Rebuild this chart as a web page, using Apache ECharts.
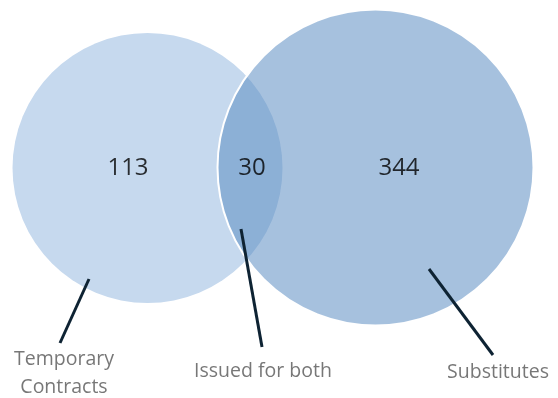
<!DOCTYPE html>
<html>
<head>
<meta charset="utf-8" />
<title>Venn</title>
<script src="https://cdn.jsdelivr.net/npm/echarts@6/dist/echarts.min.js"></script>
<style>
  html, body { margin: 0; padding: 0; background: #fff; }
  #venn { width: 558px; height: 398px; }
</style>
</head>
<body>
<div id="venn"></div>
<script>
// sets: centre and radius in chart units (x 0-558, y 0-398)
var setNames = ['Temporary Contracts', 'Substitutes'];
var setX = [147.5, 375.5];
var setY = [168, 167.5];
var setR = [135, 158];

// region counts: only left, both, only right
var regionCounts = [113, 30, 344];
var regionX = [128, 252, 399];
var regionY = [168, 168, 168];

// callout labels and leader lines
var calloutText = ['Temporary\nContracts', 'Issued for both', 'Substitutes'];
var calloutX = [64, 263, 498];
var calloutY = [373, 371, 372];
var leaderFrom = [[89, 279], [241, 229], [429, 269]];
var leaderTo = [[60, 343], [262, 347], [493, 355]];

var myChart = echarts.init(document.getElementById('venn'));

var circleData = setNames.map(function (n, i) {
  return { name: n, value: [setX[i], setY[i], setR[i], i] };
});
var fills = ['#c6d9ee', 'rgba(93,142,195,0.55)'];

myChart.setOption({
  animation: false,
  grid: { left: 0, right: 0, top: 0, bottom: 0 },
  xAxis: { type: 'value', min: 0, max: 558, show: false },
  yAxis: { type: 'value', min: 0, max: 398, inverse: true, show: false },
  series: [{
    type: 'custom',
    data: circleData,
    renderItem: function (params, api) {
      var c = api.coord([api.value(0), api.value(1)]);
      var r = api.size([api.value(2), api.value(2)])[0];
      var i = api.value(3);
      return {
        type: 'circle',
        shape: { cx: c[0], cy: c[1], r: r },
        style: {
          fill: fills[i],
          stroke: i === 1 ? '#ffffff' : null,
          lineWidth: i === 1 ? 2 : 0
        }
      };
    }
  }, {
    type: 'custom',
    data: leaderFrom.map(function (p, i) { return [p[0], p[1], leaderTo[i][0], leaderTo[i][1]]; }),
    renderItem: function (params, api) {
      var a = api.coord([api.value(0), api.value(1)]);
      var b = api.coord([api.value(2), api.value(3)]);
      return {
        type: 'line',
        shape: { x1: a[0], y1: a[1], x2: b[0], y2: b[1] },
        style: { stroke: '#0e2333', lineWidth: 3 }
      };
    }
  }, {
    type: 'scatter',
    symbolSize: 0,
    data: regionCounts.map(function (v, i) { return [regionX[i], regionY[i], v]; }),
    label: {
      show: true,
      position: 'inside',
      formatter: function (p) { return p.value[2]; },
      fontFamily: 'Open Sans',
      fontSize: 24,
      color: '#000000'
    }
  }, {
    type: 'scatter',
    symbolSize: 0,
    data: calloutText.map(function (t, i) { return { name: t, value: [calloutX[i], calloutY[i]] }; }),
    label: {
      show: true,
      position: 'inside',
      formatter: '{b}',
      fontFamily: 'Open Sans',
      fontSize: 19.5,
      lineHeight: 28,
      color: '#555555'
    }
  }]
});

window.onresize = function () {
  myChart.resize();
};
</script>
</body>
</html>
